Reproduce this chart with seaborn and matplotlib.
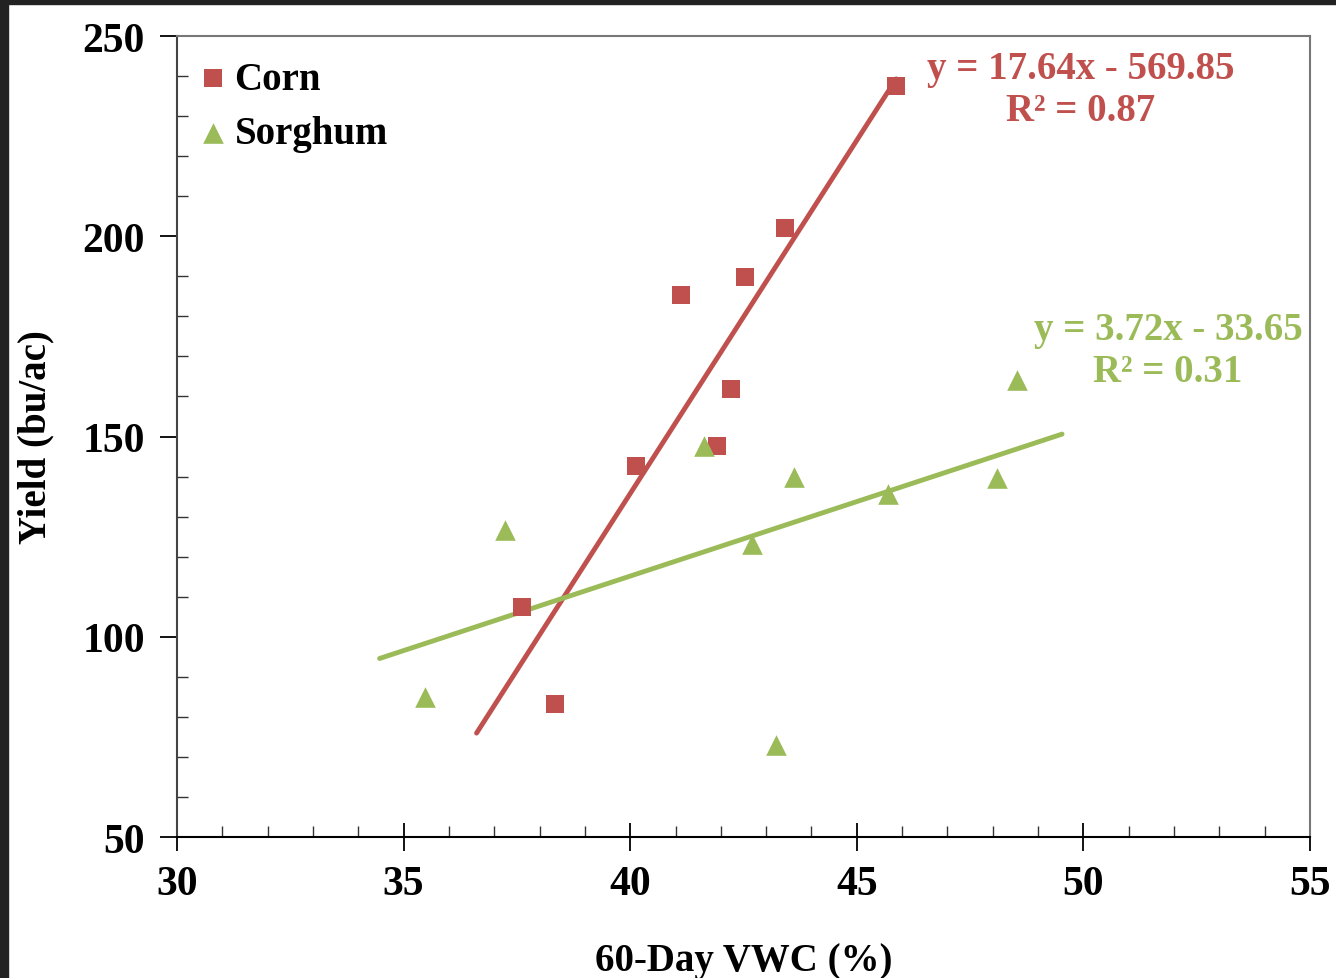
import numpy as np
import pandas as pd
import matplotlib
matplotlib.use('Agg')
import matplotlib.pyplot as plt
from matplotlib.ticker import MultipleLocator
from matplotlib.patches import Rectangle
import seaborn as sns

# data
corn_vwc   = [45.87, 43.42, 42.53, 41.12, 42.22, 41.92, 40.13, 37.61, 38.34]
corn_yield = [237.5, 202.1, 189.8, 185.3, 161.9, 147.6, 142.6, 107.4, 83.2]

sorghum_vwc   = [48.53, 41.63, 43.61, 48.09, 45.69, 37.24, 42.69, 35.47, 43.22]
sorghum_yield = [164.1, 147.6, 139.9, 139.6, 135.6, 126.7, 123.2, 85.0, 73.0]

# trendline coefficients (slope, intercept), R^2 and forecast (back, forward)
corn_fit = (17.64, -569.85)
corn_r2 = 0.87
corn_forecast = (1.0, 0.0)
sorghum_fit = (3.72, -33.65)
sorghum_r2 = 0.31
sorghum_forecast = (1.0, 1.0)

red = '#C0504D'
green = '#9BBB59'

sns.set_theme(style='white')
plt.rcParams['font.family'] = ['Liberation Serif', 'DejaVu Serif']
plt.rcParams['font.weight'] = 'bold'
plt.rcParams['text.color'] = 'black'
plt.rcParams['axes.labelcolor'] = 'black'
plt.rcParams['xtick.color'] = 'black'
plt.rcParams['ytick.color'] = 'black'

fig = plt.figure(figsize=(13.36, 9.79), dpi=100)
ax = fig.add_axes([0.1325, 0.144, 0.848, 0.8182])

# dark frame strips at top / left of the screenshot
fig.patches.append(Rectangle((0, 1 - 5/979), 1, 5/979, transform=fig.transFigure,
                             color='#222222', zorder=10))
fig.patches.append(Rectangle((0, 0), 8/1336, 1, transform=fig.transFigure,
                             color='#222222', zorder=10))

corn = pd.DataFrame({'vwc': corn_vwc, 'yield': corn_yield})
sorg = pd.DataFrame({'vwc': sorghum_vwc, 'yield': sorghum_yield})

def trend(df, fit, fc):
    xs = np.array([min(df['vwc']) - fc[0], max(df['vwc']) + fc[1]])
    return pd.DataFrame({'vwc': xs, 'yield': fit[0]*xs + fit[1]})

sns.lineplot(data=trend(corn, corn_fit, corn_forecast), x='vwc', y='yield',
             color=red, lw=3.5, ax=ax, zorder=2, solid_capstyle='round')
sns.lineplot(data=trend(sorg, sorghum_fit, sorghum_forecast), x='vwc', y='yield',
             color=green, lw=3.5, ax=ax, zorder=2, solid_capstyle='round')

sns.scatterplot(data=corn, x='vwc', y='yield', marker='s', s=165, color=red,
                linewidth=0, ax=ax, zorder=3, label='Corn')
sns.scatterplot(data=sorg, x='vwc', y='yield', marker='^', s=220, color=green,
                linewidth=0, ax=ax, zorder=3, label='Sorghum')

ax.set_xlim(30, 55)
ax.set_ylim(50, 250)
ax.xaxis.set_major_locator(MultipleLocator(5))
ax.xaxis.set_minor_locator(MultipleLocator(1))
ax.yaxis.set_major_locator(MultipleLocator(50))
ax.yaxis.set_minor_locator(MultipleLocator(10))

ax.tick_params(axis='x', which='major', direction='inout', length=20, width=1.3,
               labelsize=30, pad=10, bottom=True)
ax.tick_params(axis='x', which='minor', direction='in', length=8, width=1.0,
               color='#333333', bottom=True)
ax.tick_params(axis='y', which='major', direction='out', length=12, width=1.3,
               labelsize=30, pad=11, left=True)
ax.tick_params(axis='y', which='minor', direction='in', length=8, width=1.0,
               color='#333333', left=True)
for lab in ax.get_xticklabels() + ax.get_yticklabels():
    lab.set_fontweight('bold')

for side in ['top', 'right']:
    ax.spines[side].set_color('#777777')
    ax.spines[side].set_linewidth(1.5)
ax.spines['left'].set_color('#444444')
ax.spines['left'].set_linewidth(1.5)
ax.spines['bottom'].set_color('black')
ax.spines['bottom'].set_linewidth(1.5)

ax.set_xlabel('60-Day VWC (%)', fontsize=28, fontweight='bold', labelpad=28)
ax.set_ylabel('Yield (bu/ac)', fontsize=28, fontweight='bold')
ax.yaxis.set_label_coords(-0.108, 0.5)

ax.text(49.95, 236.6, f'y = {corn_fit[0]:.2f}x - {abs(corn_fit[1]):.2f}\nR² = {corn_r2:.2f}',
        color=red, fontsize=28, fontweight='bold', ha='center', va='center',
        linespacing=1.2)
ax.text(51.87, 171.5, f'y = {sorghum_fit[0]:.2f}x - {abs(sorghum_fit[1]):.2f}\nR² = {sorghum_r2:.2f}',
        color=green, fontsize=28, fontweight='bold', ha='center', va='center',
        linespacing=1.2)

ax.legend(loc='upper left', bbox_to_anchor=(0.0, 1.0), frameon=False,
          handlelength=0.6, handletextpad=0.25, borderaxespad=0.3,
          borderpad=0.33, labelspacing=0.45, markerscale=1.0,
          prop={'weight': 'bold', 'size': 28})

fig.savefig('out.png', dpi=100)
